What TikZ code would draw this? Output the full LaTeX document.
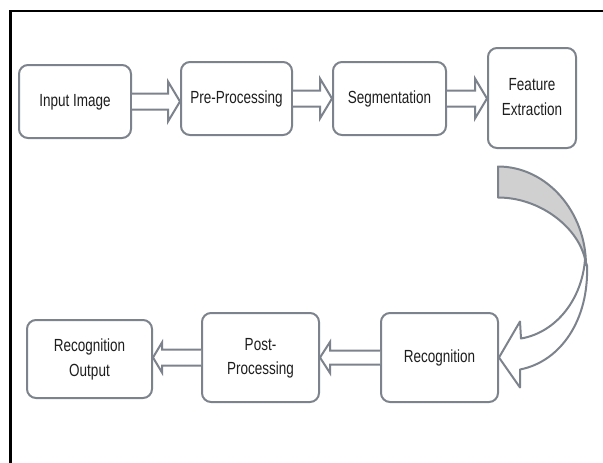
\documentclass[tikz,border=0pt]{standalone}
\usepackage{fontspec}
\setmainfont{Liberation Sans}
\usepackage{graphicx}
\usetikzlibrary{calc}
\definecolor{boxline}{HTML}{7D838C}
\definecolor{bandgray}{HTML}{D0D0D0}
\definecolor{txt}{HTML}{1E1E1E}
\newcommand{\lbl}[1]{\scalebox{1}[1.3]{\begin{tabular}{@{}c@{}}#1\end{tabular}}}
\newcommand{\barrow}[5]{%
  \draw[blockarrow]
    ($(#1)+(0,-#3)$) -- ($(#2 |- #1)+({-(#5)},-#3)$) -- ($(#2 |- #1)+({-(#5)},-#4)$)
    -- (#2 |- #1) -- ($(#2 |- #1)+({-(#5)},#4)$) -- ($(#2 |- #1)+({-(#5)},#3)$) -- ($(#1)+(0,#3)$);
}
\tikzset{
  stepbox/.style={draw=boxline, line width=2pt, rounded corners=9pt, fill=white,
    inner sep=0pt, font=\fontsize{13.5}{19}\selectfont, text=txt},
  blockarrow/.style={draw=boxline, line width=2pt, fill=white, line join=miter},
  bandline/.style={draw=boxline, line width=2pt, line join=round},
}
\begin{document}
\begin{tikzpicture}[x=1pt, y=-1pt]
\useasboundingbox (0,0) rectangle (603,463);
\fill[white] (0,0) rectangle (603,463);
\draw[line width=2.6pt, black] (10.5,463) -- (10.5,11) -- (603,11);

\node[stepbox, minimum width=112pt, minimum height=73pt] (in)   at (75,101.5)   {\lbl{Input Image}};
\node[stepbox, minimum width=111pt, minimum height=73pt] (pre)  at (236.5,98.5) {\lbl{Pre-Processing}};
\node[stepbox, minimum width=113pt, minimum height=73pt] (seg)  at (389.5,98.5) {\lbl{Segmentation}};
\node[stepbox, minimum width=88pt,  minimum height=100pt] (feat) at (532,98)     {\lbl{Feature\\Extraction}};
\node[stepbox, minimum width=125pt, minimum height=78pt] (out)  at (89.5,359)   {\lbl{Recognition\\Output}};
\node[stepbox, minimum width=117pt, minimum height=89pt] (post) at (260.5,357.5) {\lbl{Post-\\Processing}};
\node[stepbox, minimum width=117pt, minimum height=89pt] (rec)  at (439.5,357.5) {\lbl{Recognition}};

\barrow{in.east}{pre.west}{8}{20}{12}
\barrow{pre.east}{seg.west}{8}{20}{12}
\barrow{seg.east}{feat.west}{8}{20}{12}
\barrow{rec.west}{post.east}{7}{15.5}{-10}
\barrow{post.west}{out.east}{8}{15}{-9}

\coordinate (tip) at (rec.east);
\begin{scope}[shift={(tip)}]
  % white lower band with head
  \draw[bandline, fill=white]
    (86,-98) .. controls (83,-58) and (57,-25) .. (22,-19)
    -- (21,-36) -- (0,0) -- (21,30) -- (21,12)
    .. controls (62,4) and (90,-38) .. (88,-92) -- cycle;
  % gray upper band
  \draw[bandline, fill=bandgray]
    (-1,-191) .. controls (47.6,-191) and (87,-146) .. (87,-92)
    .. controls (84,-126) and (44,-160) .. (-1,-160) -- cycle;
\end{scope}
\end{tikzpicture}
\end{document}
